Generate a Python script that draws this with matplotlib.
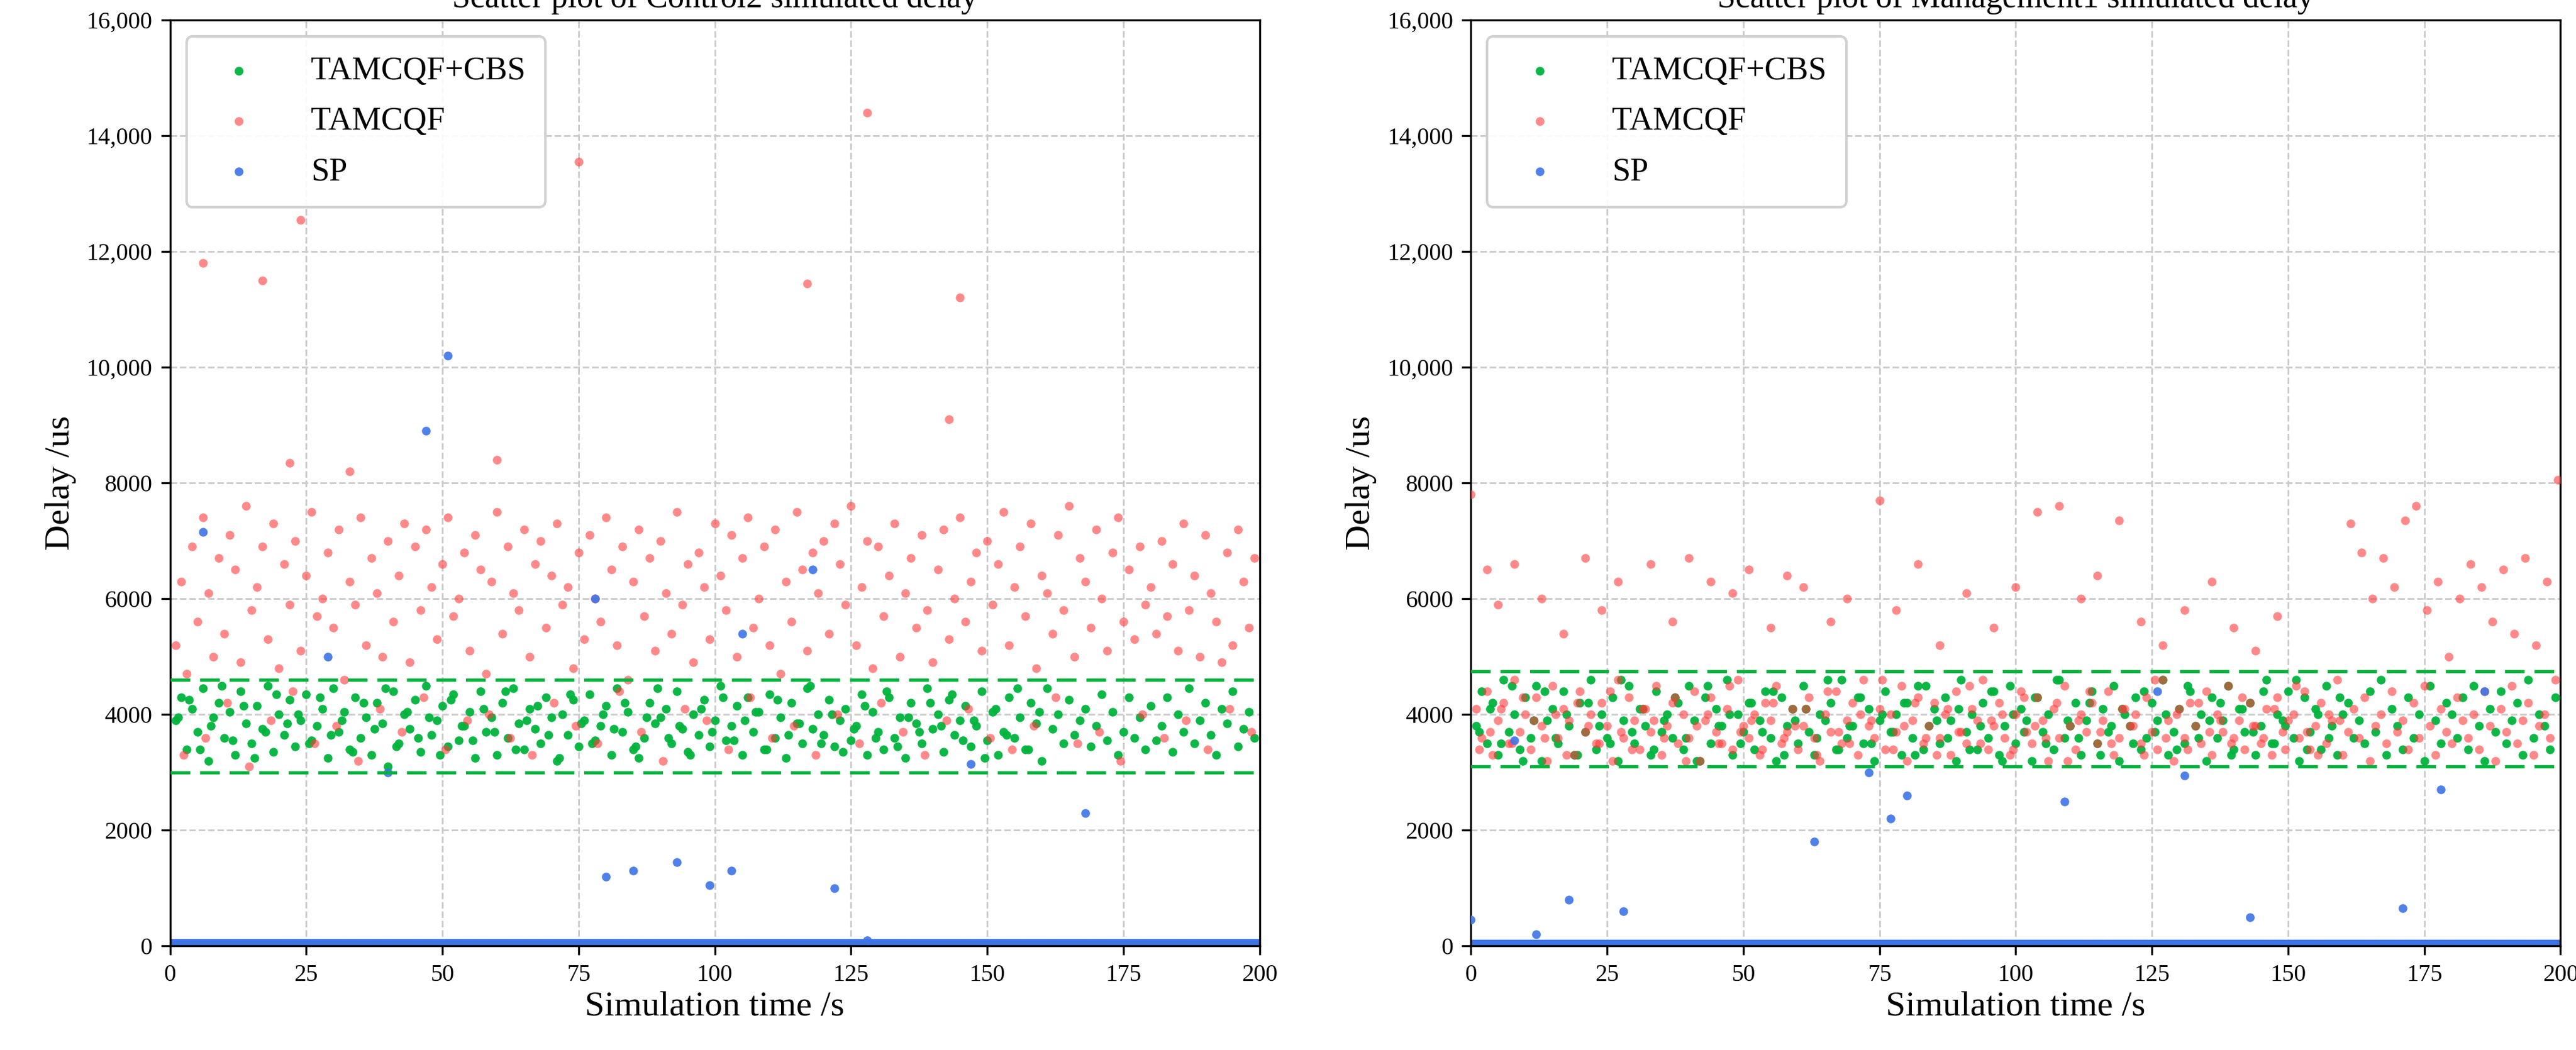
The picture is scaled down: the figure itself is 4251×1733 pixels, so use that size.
import matplotlib
matplotlib.use("Agg")
import matplotlib.pyplot as plt
from matplotlib.ticker import FuncFormatter, MultipleLocator
import numpy as np

plt.rcParams['font.family'] = ['Liberation Serif', 'DejaVu Serif']

# ---------------- Left panel: Control2 ----------------
L_green_x = [1,2,3,4,5,6,7,8,9,10,11,12,13,14,15,16,17,18,19,20,21,22,23,24,25,26,27,28,29,30,31,32,33,34,35,36,37,38,39,40,
             41,42,43,44,45,46,47,48,49,50,51,52,53,54,55,56,57,58,59,60,61,62,63,64,65,66,67,68,69,70,71,72,73,74,75,76,77,78,79,80,
             81,82,83,84,85,86,87,88,89,90,91,92,93,94,95,96,97,98,99,100,101,102,103,104,105,106,107,108,109,110,111,112,113,114,115,116,117,118,119,120,
             121,122,123,124,125,126,127,128,129,130,131,132,133,134,135,136,137,138,139,140,141,142,143,144,145,146,147,148,149,150,151,152,153,154,155,156,157,158,159,160,
             161,162,163,164,165,166,167,168,169,170,171,172,173,174,175,176,177,178,179,180,181,182,183,184,185,186,187,188,189,190,191,192,193,194,195,196,197,198,199,
             1.5,3.5,5.5,7.5,9.5,11.5,13.5,15.5,17.5,19.5,21.5,23.5,25.5,27.5,29.5,31.5,33.5,35.5,37.5,39.5,41.5,43.5,45.5,47.5,49.5,51.5,53.5,55.5,57.5,59.5,
             61.5,63.5,65.5,67.5,69.5,71.5,73.5,75.5,77.5,79.5,81.5,83.5,85.5,87.5,89.5,91.5,93.5,95.5,97.5,99.5,101.5,103.5,105.5,107.5,109.5,111.5,113.5,115.5,117.5,119.5,
             121.5,123.5,125.5,127.5,129.5,131.5,133.5,135.5,137.5,139.5,141.5,143.5,145.5,147.5,149.5,151.5,153.5,155.5,157.5,159.5,161.5,163.5,165.5,167.5,169.5,171.5,173.5,175.5,177.5,179.5,
             181.5,183.5,185.5,187.5,189.5,191.5,193.5,195.5,197.5,199.5]
L_green_y = [3900,4300,3400,4100,3700,4450,3200,3950,4200,3600,4050,3300,4400,3850,3500,4150,3750,4500,3350,4000,3650,4250,3450,3900,4350,3550,3800,4100,3250,4450,
             3700,4050,3400,4300,3600,3950,3300,4200,3850,3100,4400,3500,4000,3750,4250,3350,4500,3650,3900,4150,3450,4350,3550,3800,4050,3250,4400,3700,3950,3300,
             4200,3600,4450,3850,3400,4100,3750,3500,4300,3950,3200,4000,3650,4250,3450,3900,4350,3550,3800,4150,3300,4450,3700,4050,3400,3250,3600,4200,3850,3950,
             4100,3500,4400,3750,3350,4000,3650,4250,3450,3900,4500,3550,3800,4150,3300,4300,3700,4050,3400,4350,3600,3950,3250,4200,3850,3500,4450,3750,4000,3650,
             4250,3450,3900,4100,3550,3800,4350,3300,4050,3700,3400,4300,3600,3950,3250,4200,3850,3500,4450,3750,4000,3350,4250,3650,3900,4150,3450,3800,4400,3550,
             4050,3300,3700,4300,3600,3950,3400,4200,3850,3200,4450,3750,4000,3500,4250,3650,3900,4100,3450,3800,4350,3550,4050,3300,3700,4300,3600,3950,3400,
             4150,3550,3800,4300,3350,4000,3700,4450,3500,3900,4200,3650,3300,4100,3850,4400,3450,3750,4050,3600,3950,4250,3400,3800,4500,3550,4150,3250,3700,4350,
             3850,4000,3500,4300,3650,3900,3350,4200,3750,4450,3450,4050,3600,3950,3300,4250,3800,3550,4100,3700,4400,3400,3900,4150,3650,3250,4350,3850,3500,4000,
             3750,4200,3450,3950,4450,3600,3800,3300,4100,3700,4300,3550,3900,4050,3400,4250,3650,3850,4500,3500,4000,3350,3750,4150,3600,4400,3450,3950,3700,4200,
             3800,4350,3550,3900,3250,4100,3650,4450,3400,4050]

L_red_x = [1,2,3,4,5,6,7,8,9,10,11,12,13,14,15,16,17,18,19,20,21,22,23,24,25,26,27,28,29,30,31,32,33,34,35,36,37,38,39,40,
           41,42,43,44,45,46,47,48,49,50,51,52,53,54,55,56,57,58,59,60,61,62,63,64,65,66,67,68,69,70,71,72,73,74,75,76,77,78,79,80,
           81,82,83,84,85,86,87,88,89,90,91,92,93,94,95,96,97,98,99,100,101,102,103,104,105,106,107,108,109,110,111,112,113,114,115,116,117,118,119,120,
           121,122,123,124,125,126,127,128,129,130,131,132,133,134,135,136,137,138,139,140,141,142,143,144,145,146,147,148,149,150,151,152,153,154,155,156,157,158,159,160,
           161,162,163,164,165,166,167,168,169,170,171,172,173,174,175,176,177,178,179,180,181,182,183,184,185,186,187,188,189,190,191,192,193,194,195,196,197,198,199,
           2.5,6.5,10.5,14.5,18.5,22.5,26.5,30.5,34.5,38.5,42.5,46.5,50.5,54.5,58.5,62.5,66.5,70.5,74.5,78.5,82.5,86.5,90.5,94.5,98.5,102.5,106.5,110.5,114.5,118.5,
           122.5,126.5,130.5,134.5,138.5,142.5,146.5,150.5,154.5,158.5,162.5,166.5,170.5,174.5,178.5,182.5,186.5,190.5,194.5,198.5,
           6,17,24,75,117,128,145,143,22,33,60]
L_red_y = [5200,6300,4700,6900,5600,7400,6100,5000,6700,5400,7100,6500,4900,7600,5800,6200,6900,5300,7300,4800,6600,5900,7000,5100,6400,7500,5700,6000,6800,5500,
           7200,4600,6300,5900,7400,5200,6700,6100,5000,7000,5600,6400,7300,4900,6900,5800,7200,6200,5300,6600,7400,5700,6000,6800,5100,7100,6500,4700,6300,7500,
           5400,6900,6100,5800,7200,5000,6600,7000,5500,6400,7300,5900,6200,4800,6800,5300,7100,6000,5600,7400,6500,5200,6900,4600,6300,7200,5700,6700,5100,7000,
           6100,5400,7500,5900,6600,4900,6800,6200,5300,7300,6400,5800,7100,5000,6700,7400,5500,6000,6900,5200,7200,4700,6300,5600,7500,6500,5100,6800,6100,7000,
           5400,7300,6600,5900,7600,5200,6200,7000,4800,6900,5700,6400,7300,5000,6100,6700,5500,7100,5800,4900,6500,7200,5300,6000,7400,5600,6300,6800,5100,7000,
           5900,6600,7500,5200,6200,6900,5700,7300,4800,6400,6100,5400,7100,5800,7600,5000,6700,6300,5500,7200,6000,5100,6800,7400,5600,6500,5300,6900,5900,
           6200,5400,7000,5700,6600,5100,7300,5800,6400,5000,7100,6100,5600,4900,6800,5200,7200,6300,5500,6700,
           3300,3600,4200,3100,3900,4400,3500,3800,3200,4100,3700,4300,3400,3900,4000,3600,3300,4200,3800,3500,4400,3700,3200,4100,3900,3400,4300,3600,3800,3300,
           4000,3500,4200,3700,3300,3900,4100,3600,3400,3800,4300,3500,3700,3200,4000,3600,3900,3400,4100,3700,
           11800,11500,12550,13550,11450,14400,11200,9100,8350,8200,8400]

L_blue_x = [6,29,47,51,78,118,105,40,80,85,93,99,103,122,128,147,168]
L_blue_y = [7150,5000,8900,10200,6000,6500,5400,3000,1200,1300,1450,1050,1300,1000,100,3150,2300]

L_band = [3000, 4600]

# ---------------- Right panel: Management1 ----------------
R_green_x = L_green_x
R_green_y = [3800,4400,3500,4200,3300,4600,3700,4000,3400,4300,3600,4500,3200,3900,4100,3500,4400,3800,3300,4200,3700,4600,3400,4000,3600,4300,3200,3900,4500,3500,
             4100,3800,3300,4400,3700,4000,3600,4200,3400,4500,3900,3200,4300,3500,4100,3800,4600,3300,4000,3700,4200,3400,3900,4400,3600,3200,4300,3800,4100,3500,
             4500,3700,3300,4000,3900,4200,3400,4600,3600,3800,4300,3500,4100,3200,3900,4400,3700,4000,3300,4200,3600,4500,3400,3800,4100,3500,4300,3900,3200,4600,
             3700,4000,3400,4200,3600,4400,3300,3800,4500,3500,4100,3900,3200,4300,3700,4000,3400,4600,3600,3800,4200,3300,3900,4400,3500,4100,3700,4500,3200,4000,
             3800,4300,3400,3600,4200,3900,4600,3300,3700,4100,3500,4400,3800,4000,3200,4300,3600,3900,4500,3400,4100,3700,4200,3300,3800,4600,3500,4000,3900,4400,
             3600,3200,4300,3700,4100,3400,4500,3800,3300,4000,4200,3600,3900,3500,4400,3700,4600,3300,4100,3800,3400,4300,3600,4000,3200,4500,3900,3500,4200,
             4000,3600,4300,3400,4500,3800,3200,4100,3700,4400,3500,3900,4200,3300,4600,3600,4000,3800,3400,4300,3700,4100,3500,4500,3200,3900,4400,3600,4000,3300,
             4200,3800,3500,4600,3700,4100,3400,3900,4300,3600,3200,4500,3800,4000,3500,4200,3700,4400,3300,3900,4100,3600,4600,3400,3800,4300,3500,4000,3700,4200,
             3300,4500,3900,3600,4100,3400,3800,4400,3200,4000,3700,4300,3500,4600,3900,3600,4200,3300,3800,4100,3500,4400,3700,4000,3400,4500,3600,3900,4200,3300,
             4100,3700,4400,3500,3800,4600,3400,4000,3600,4300]

R_red_x = L_green_x + [0,3,5,8,13,17,21,24,27,33,37,40,44,48,51,55,58,61,66,69,75,78,82,86,91,96,100,104,108,112,115,119,123,127,131,136,140,144,148,152,155,158,
                       162,165,170,174,178,183,188,192,196,200,31,64,88,138,160,185,194]
R_red_y = [4100,3600,4400,3300,3900,4200,3500,4600,3700,4000,3400,4300,3800,3200,4500,3600,4100,3900,3300,4400,3700,4000,3500,4200,3800,3200,4600,3600,4300,3900,
           3400,4100,3700,4500,3300,3800,4200,3500,4000,3600,4400,3200,3900,4300,3700,3500,4100,3400,4600,3800,3600,4000,3300,4200,3900,4500,3500,3700,4100,3400,
           3800,4300,3600,3200,4000,3700,4400,3500,3900,4200,3300,4600,3800,3600,4100,3400,4000,3700,4500,3200,3900,4300,3500,3800,4200,3600,4000,3300,4400,3700,
           3500,4100,3900,4600,3400,3800,4200,3600,3300,4000,4400,3700,3500,4300,3900,3200,4100,3600,4500,3800,3400,4000,3700,4200,3500,3900,4400,3300,3600,4100,
           3800,4000,3500,4300,3700,3400,4600,3900,3200,4100,3600,4200,3800,3500,4400,3300,4000,3700,4500,3600,3900,3400,4200,3800,3500,4100,3300,4300,3700,3900,
           4000,3600,4400,3400,3800,4200,3500,3900,4600,3300,3700,4100,3600,4300,3200,3800,4000,3500,4400,3700,3900,3400,4200,3600,4500,3800,3300,4100,3700,
           3500,4300,3900,3600,4000,3400,4400,3800,3200,4100,3700,4500,3500,3900,4200,3300,3800,4000,3600,4600,3400,3700,4100,3500,4300,3900,3600,4000,3300,4200,
           3800,3500,4400,3700,3400,4100,3900,3600,4300,3200,3800,4000,3500,4500,3700,3900,3400,4200,3600,3800,4100,3300,4400,3700,3500,4000,3900,4600,3400,3800,
           4200,3600,3300,4100,3700,4500,3500,3900,4000,3400,4300,3800,3600,4200,3200,3900,4400,3700,3500,4100,3800,3300,4600,3600,4000,3400,4200,3700,3900,3500,
           4300,3800,3600,4100,3400,4500,3700,3300,4000,3900,
           7300,6800,6000,6700,6200,7350,7600,5800,6300,5000,6000,6600,6200,5600,6500,5400,6700,5200,6300,8050,7800,6500,5900,6600,6000,5400,6700,5800,6300,6600,
           5600,6700,6300,6100,6500,5500,6400,6200,5600,6000,7700,5800,6600,5200,6100,5500,6200,7500,7600,6000,6400,7350,5600,5200,5800,6300,5500,5100,5700]

R_blue_x = [0,8,12,18,28,63,73,77,80,109,131,143,171,178,126,186]
R_blue_y = [450,3550,200,800,600,1800,3000,2200,2600,2500,2950,500,650,2700,4400,4400]

R_band = [3100, 4750]

# dense baseline of SP delays near zero
base_x = list(np.arange(0, 200.01, 0.25))
base_y_L = [60] * len(base_x)
base_y_R = [50] * len(base_x)

GREEN = '#00b33c'
RED = '#ff3b3b'
BLUE = '#3d73e6'

def pair(x, y):
    n = min(len(x), len(y))
    return x[:n], y[:n]

fig = plt.figure(figsize=(4251/300, 1733/300), dpi=300)
axL = fig.add_axes([0.066, 0.099, 0.423, 0.882])
axR = fig.add_axes([0.571, 0.099, 0.423, 0.882])

def fmt(v, p):
    v = int(v)
    return f"{v:,}" if v >= 10000 else f"{v}"

panels = [
    (axL, "Scatter plot of Control2 simulated delay", L_green_x, L_green_y, L_red_x, L_red_y, L_blue_x, L_blue_y, base_y_L, L_band),
    (axR, "Scatter plot of Management1 simulated delay", R_green_x, R_green_y, R_red_x, R_red_y, R_blue_x, R_blue_y, base_y_R, R_band),
]
for ax, title, gx, gy, rx, ry, bx, by, bby, band in panels:
    gx, gy = pair(gx, gy)
    rx, ry = pair(rx, ry)
    bx, by = pair(bx, by)
    ax.scatter(base_x, bby, s=10, color=BLUE, alpha=0.9, linewidths=0, zorder=2)
    ax.scatter(gx, gy, s=12, color=GREEN, alpha=0.95, linewidths=0, zorder=3, label='TAMCQF+CBS')
    ax.scatter(rx, ry, s=12, color=RED, alpha=0.6, linewidths=0, zorder=4, label='TAMCQF')
    ax.scatter(bx, by, s=12, color=BLUE, alpha=0.9, linewidths=0, zorder=5, label='SP')
    for b in band:
        ax.axhline(b, color=GREEN, ls=(0, (6, 3)), lw=1.3, zorder=6)
    ax.set_xlim(0, 200)
    ax.set_ylim(0, 16000)
    ax.xaxis.set_major_locator(MultipleLocator(25))
    ax.yaxis.set_major_locator(MultipleLocator(2000))
    ax.yaxis.set_major_formatter(FuncFormatter(fmt))
    ax.grid(True, ls='--', color='#cccccc', lw=0.7, zorder=0)
    ax.set_axisbelow(True)
    ax.tick_params(labelsize=9.5)
    ax.set_title(title, fontsize=13, pad=5)
    ax.set_xlabel("Simulation time /s", fontsize=14, labelpad=2)
    ax.set_ylabel("Delay /us", fontsize=14)
    ax.legend(loc='upper left', fontsize=13, markerscale=1.0, framealpha=0.9,
              handletextpad=1.2, borderpad=0.6, labelspacing=0.6)

fig.savefig("out.png", dpi=300)
